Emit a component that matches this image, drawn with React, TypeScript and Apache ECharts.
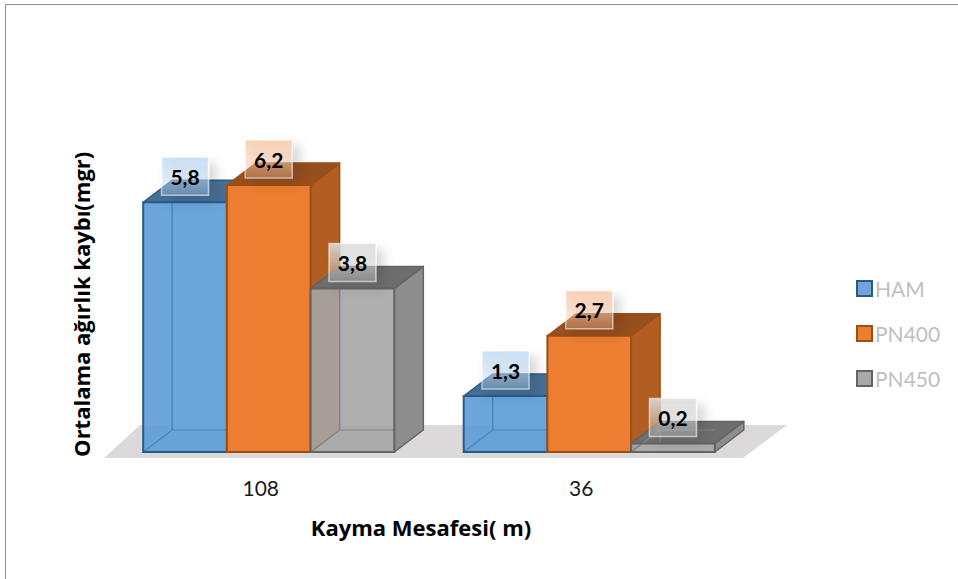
import React, { useEffect, useRef } from "react";
import * as echarts from "echarts";

const categories = ["108", "36"];
const seriesNames = ["HAM", "PN400", "PN450"];
const hamValues = [5.8, 1.3];
const pn400Values = [6.2, 2.7];
const pn450Values = [3.8, 0.2];
const xTitle = "Kayma Mesafesi( m)";
const yTitle = "Ortalama ağırlık kaybı(mgr)";

const FONT = "Lato, Carlito, 'Open Sans', sans-serif";
const TITLE_FONT = "'Open Sans', Lato, sans-serif";
const DX = 29;
const DY = -22;
const BAR_RATIO = 0.2612;
const SHIFT = 8;

const palettes = [
  { front: "rgba(91,155,213,0.9)", top: "#466f96", side: "#466f96", edge: "#2a5a8a", inner: "#4a86c0", legend: "#6fa5d9", boxTop: "rgba(197,222,243,0.92)", boxBottom: "rgba(197,222,243,0.25)" },
  { front: "#ed7d31", top: "#964f1e", side: "#b25e22", edge: "#9c4f14", inner: "#ed7d31", legend: "#ed7d31", boxTop: "rgba(248,205,175,0.92)", boxBottom: "rgba(248,205,175,0.25)" },
  { front: "rgba(165,165,165,0.9)", top: "#6e6e6e", side: "#8d8d8d", edge: "#646464", inner: "#858585", legend: "#a9a9a9", boxTop: "rgba(220,220,220,0.9)", boxBottom: "rgba(220,220,220,0.25)" },
];

function barGeometry(api: any, seriesIndex: number) {
  const cat = api.value(0);
  const val = api.value(1);
  const w = api.size([1, 0])[0] * BAR_RATIO;
  const topPt = api.coord([cat, val]);
  const basePt = api.coord([cat, 0]);
  const cx = basePt[0] + SHIFT + (seriesIndex - 1) * w;
  return { w, left: cx - w / 2, right: cx + w / 2, cx, top: topPt[1], base: basePt[1] };
}

function barSeries(name: string, values: number[], i: number) {
  const p = palettes[i];
  return {
    type: "custom",
    name,
    z: 2 + i,
    data: values.map((v, k) => [k, v]),
    renderItem: (_: any, api: any) => {
      const g = barGeometry(api, i);
      const { left: l, right: r, top: t, base: b } = g;
      const line = (x1: number, y1: number, x2: number, y2: number, color: string, lw = 1.5) => ({
        type: "line",
        shape: { x1, y1, x2, y2 },
        style: { stroke: color, lineWidth: lw, fill: "none" },
      });
      const poly = (pts: number[][], fill: string) => ({
        type: "polygon",
        shape: { points: pts },
        style: { fill, stroke: p.edge, lineWidth: 1.5, lineJoin: "round" },
      });
      return {
        type: "group",
        children: [
          poly([[r, t], [r + DX, t + DY], [r + DX, b + DY], [r, b]], p.side),
          poly([[l, t], [l + DX, t + DY], [r + DX, t + DY], [r, t]], p.top),
          {
            type: "rect",
            shape: { x: l, y: t, width: r - l, height: b - t },
            style: { fill: p.front },
          },
          line(l + DX, Math.max(t, t + DY), l + DX, b + DY, p.inner),
          line(l + DX, b + DY, r, b + DY, p.inner, 1),
          line(l, b, l + DX, b + DY, p.inner),
          {
            type: "rect",
            shape: { x: l, y: t, width: r - l, height: b - t },
            style: { fill: "none", stroke: p.edge, lineWidth: 2 },
          },
        ],
      };
    },
  };
}

function labelSeries(name: string, values: number[], i: number) {
  const p = palettes[i];
  return {
    type: "custom",
    name: name + " etiket",
    z: 8,
    data: values.map((v, k) => [k, v]),
    renderItem: (_: any, api: any) => {
      const g = barGeometry(api, i);
      const cy = g.top - 26;
      return {
        type: "group",
        children: [
          {
            type: "rect",
            shape: { x: g.cx - 23.5, y: cy - 19, width: 47, height: 38 },
            style: {
              fill: new echarts.graphic.LinearGradient(0, 0, 0, 1, [
                { offset: 0, color: p.boxTop },
                { offset: 1, color: p.boxBottom },
              ]),
              stroke: "rgba(255,255,255,0.55)",
              lineWidth: 1.5,
              shadowColor: "rgba(0,0,0,0.22)",
              shadowBlur: 12,
              shadowOffsetX: 7,
              shadowOffsetY: 7,
            },
          },
          {
            type: "text",
            style: {
              x: g.cx,
              y: cy,
              text: String(api.value(1)).replace(".", ","),
              align: "center",
              verticalAlign: "middle",
              fill: "#000",
              fontFamily: FONT,
              fontWeight: "bold",
              fontSize: 21,
            },
          },
        ],
      };
    },
  };
}

export default function App() {
  const ref = useRef<HTMLDivElement>(null);
  useEffect(() => {
    const chart = echarts.init(ref.current!, null, { renderer: "svg" });
    const valueLists = [hamValues, pn400Values, pn450Values];
    chart.setOption({
      animation: false,
      backgroundColor: "#fff",
      grid: { left: 100.5, width: 641, top: 150.6, height: 301.4, containLabel: false },
      xAxis: {
        type: "category",
        data: categories,
        axisLine: { show: false },
        axisTick: { show: false },
        axisLabel: { margin: 25, color: "#1a1a1a", fontFamily: FONT, fontSize: 21 },
        name: xTitle,
        nameLocation: "middle",
        nameGap: 64,
        nameTextStyle: { color: "#000", fontFamily: TITLE_FONT, fontWeight: "bold", fontSize: 22 },
      },
      yAxis: {
        type: "value",
        min: 0,
        max: 7,
        interval: 1,
        axisLine: { show: false },
        axisTick: { show: false },
        axisLabel: { show: false },
        splitLine: { show: false },
        name: yTitle,
        nameLocation: "middle",
        nameGap: 9,
        nameRotate: 90,
        nameTextStyle: { color: "#000", fontFamily: TITLE_FONT, fontWeight: "bold", fontSize: 22, padding: [0, 6, 0, 0] },
      },
      legend: {
        orient: "vertical",
        left: 851,
        top: 273,
        itemWidth: 15,
        itemHeight: 15,
        itemGap: 24,
        icon: "rect",
        data: seriesNames.map((name, i) => ({
          name,
          itemStyle: { color: palettes[i].legend, borderColor: palettes[i].edge, borderWidth: 2 },
        })),
        textStyle: { color: "#bfbfbf", fontFamily: FONT, fontSize: 21, padding: [0, 0, 0, -2] },
      },
      graphic: [
        { type: "line", z: 0, shape: { x1: 5.5, y1: 4.5, x2: 958, y2: 4.5 }, style: { stroke: "#8f8f8f", lineWidth: 1 } },
        { type: "line", z: 0, shape: { x1: 5.5, y1: 4.5, x2: 5.5, y2: 579 }, style: { stroke: "#8f8f8f", lineWidth: 1 } },
        {
          type: "polygon",
          z: 0,
          shape: { points: [[104, 458], [140, 425], [787, 425], [743, 458]] },
          style: { fill: "#dbd9d9" },
        },
      ],
      series: [
        ...seriesNames.map((n, i) => barSeries(n, valueLists[i], i)),
        ...seriesNames.map((n, i) => labelSeries(n, valueLists[i], i)),
      ],
    } as any);
    return () => chart.dispose();
  }, []);
  return <div ref={ref} style={{ position: "absolute", left: 0, top: 0, width: 958, height: 579 }} />;
}
